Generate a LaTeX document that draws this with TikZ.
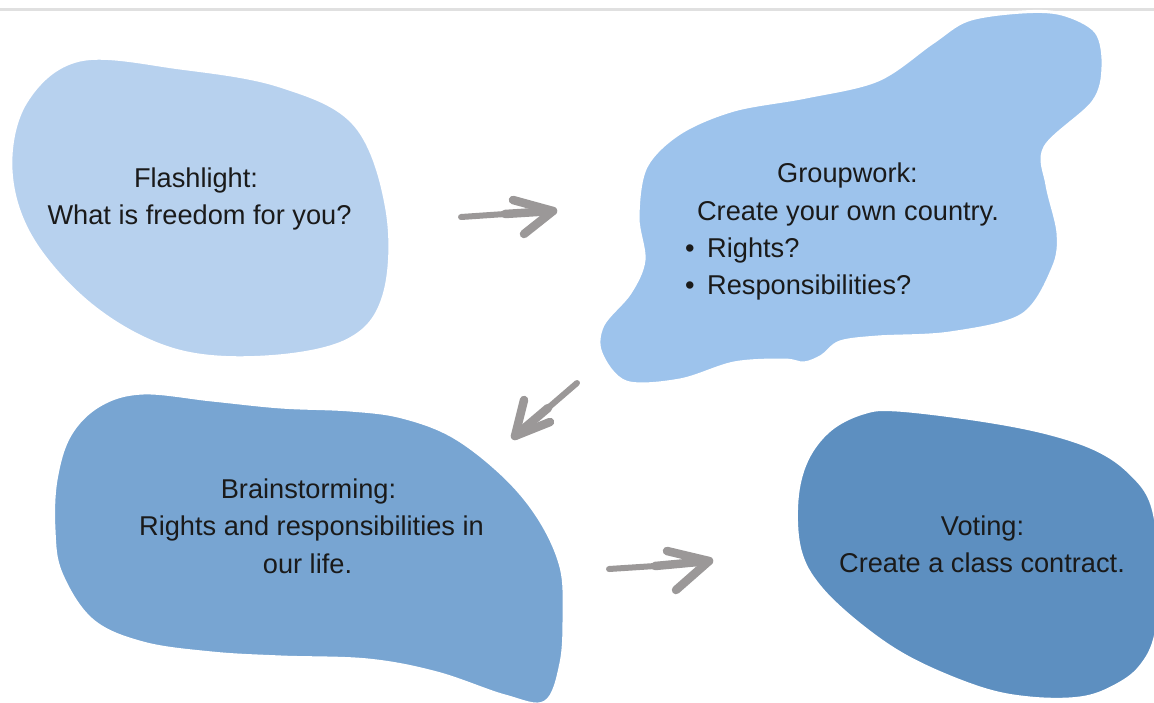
\documentclass[tikz,border=0pt]{standalone}
\usepackage{fontspec}
\setmainfont{Liberation Sans}
\definecolor{blobA}{HTML}{B7D1EE}
\definecolor{blobB}{HTML}{9DC3EC}
\definecolor{blobC}{HTML}{78A5D2}
\definecolor{blobD}{HTML}{5D8FC0}
\definecolor{arrowgray}{HTML}{9B9898}
\definecolor{topline}{HTML}{E0E0E0}
\definecolor{ink}{HTML}{1A1A1A}
\begin{document}
\begin{tikzpicture}[x=1pt,y=-1pt,
  blob/.style={draw=white,line width=3pt},
  txt/.style={text=ink,font=\fontsize{27.2}{37}\selectfont,inner sep=0pt,anchor=base},
  txtw/.style={text=ink,font=\fontsize{27.2}{37}\selectfont,inner sep=0pt,anchor=base west},
  arr/.style={draw=arrowgray,line width=8.5pt,line cap=round,line join=round},
  arrthin/.style={draw=arrowgray,line width=6pt,line cap=round}]
\useasboundingbox (0,0) rectangle (1154,702);
\clip (0,0) rectangle (1154,702);
\fill[white] (0,0) rectangle (1154,702);
\draw[topline,line width=2.5pt] (0,9.5) -- (1154,9.5);

% Flashlight blob
\draw[blob,fill=blobA] plot[smooth cycle,tension=0.6] coordinates {
 (11,170) (26,102) (80,60) (180,68) (280,86) (355,125) (387,210) (384,295)
 (348,340) (265,357) (175,350) (95,308) (33,240)};

% Groupwork blob
\draw[blob,fill=blobB] plot[smooth cycle,tension=0.55] coordinates {
 (968,20) (1022,12) (1062,14) (1096,32) (1103,67) (1093,102) (1045,147)
 (1047,185) (1058,233) (1053,268) (1022,315) (950,333) (878,337) (840,342)
 (822,356) (804,363) (784,360) (734,363) (680,380) (626,382) (601,353)
 (603,325) (630,293) (644,260) (638,217) (646,167) (680,133) (734,110)
 (806,97) (878,80) (932,43)};

% Brainstorming blob
\draw[blob,fill=blobC] plot[smooth cycle,tension=0.6] coordinates {
 (143,393) (212,400) (281,407) (350,410) (402,417) (454,437) (505,477)
 (540,520) (561,567) (564,613) (561,663) (545,702) (505,696) (437,673)
 (368,660) (281,657) (212,653) (143,643) (92,620) (61,573) (54,530)
 (56,480) (70,435) (100,405)};

% Voting blob
\draw[blob,fill=blobD] plot[smooth cycle,tension=0.6] coordinates {
 (863,413) (897,410) (980,420) (1047,433) (1097,450) (1130,473) (1152,505)
 (1160,567) (1156,633) (1140,667) (1113,687) (1080,698) (1030,698) (980,688)
 (913,660) (863,627) (820,587) (800,550) (797,500) (807,460) (830,430)};

% texts
\node[txt] (fl1) at (196,187) {Flashlight:};
\node[txt] (fl2) at (199.5,224) {What is freedom for you?};

\node[txt] (gw1) at (847.5,182) {Groupwork:};
\node[txt] (gw2) at (848,220) {Create your own country.};
\node[txt] (gwb1) at (690,257) {\textbullet};
\node[txtw] (gw3) at (707,257) {Rights?};
\node[txt] (gwb2) at (690,294) {\textbullet};
\node[txtw] (gw4) at (707,294) {Responsibilities?};

\node[txt] (bs1) at (308.5,498) {Brainstorming:};
\node[txt] (bs2) at (311.5,535) {Rights and responsibilities in};
\node[txt] (bs3) at (307.5,573) {our life.};

\node[txt] (vt1) at (982.5,535) {Voting:};
\node[txt] (vt2) at (982,572) {Create a class contract.};

% arrows
\coordinate (a1s) at (461,217);
\coordinate (a1m) at (505,214);
\coordinate (a1t) at (553,211);
\coordinate (a1u) at (513,200);
\coordinate (a1l) at (524,234);
\draw[arrthin] (a1s) -- (a1m);
\draw[arr] (a1m) -- (a1t);
\draw[arr] (a1u) -- (a1t) -- (a1l);

\coordinate (a2s) at (577,383);
\coordinate (a2m) at (548,408);
\coordinate (a2t) at (515,436);
\coordinate (a2u) at (524,400);
\coordinate (a2l) at (550,422);
\draw[arrthin] (a2s) -- (a2m);
\draw[arr] (a2m) -- (a2t);
\draw[arr] (a2u) -- (a2t) -- (a2l);

\coordinate (a3s) at (609,569);
\coordinate (a3m) at (655,566);
\coordinate (a3t) at (709,561);
\coordinate (a3u) at (667,551);
\coordinate (a3l) at (676,590);
\draw[arrthin] (a3s) -- (a3m);
\draw[arr] (a3m) -- (a3t);
\draw[arr] (a3u) -- (a3t) -- (a3l);
\end{tikzpicture}
\end{document}
